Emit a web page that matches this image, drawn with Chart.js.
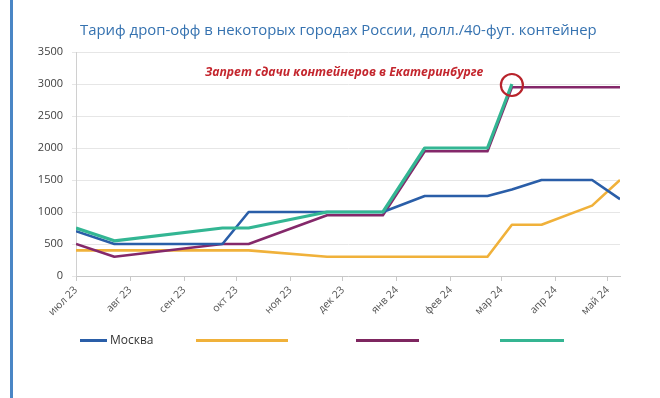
<!DOCTYPE html>
<html lang="ru">
<head>
<meta charset="utf-8">
<script src="https://cdn.jsdelivr.net/npm/chart.js@4"></script>
<style>
  html, body { margin: 0; padding: 0; background: #fff; }
  #wrap { position: relative; width: 660px; height: 398px; overflow: hidden; font-family: 'Open Sans', sans-serif; }
  #bar { position: absolute; left: 10px; top: 0; width: 3px; height: 398px; background: #4a86c5; }
  #title { position: absolute; left: 80px; top: 19px; font-size: 14.9px; color: #3572b0; white-space: nowrap; }
  #note { position: absolute; left: 205px; top: 63px; font-size: 12.2px; font-weight: bold; font-style: italic; color: #c4262e; white-space: nowrap; }
  #chart { position: absolute; left: 0; top: 0; }
  .lg { position: absolute; top: 339px; height: 3px; }
  #lgText { position: absolute; left: 110px; top: 331px; font-size: 12px; color: #333; }
</style>
</head>
<body>
<div id="wrap">
  <div id="bar"></div>
  <canvas id="chart" width="660" height="398"></canvas>
  <div id="title">Тариф дроп-офф в некоторых городах России, долл./40-фут. контейнер</div>
  <div id="note">Запрет сдачи контейнеров в Екатеринбурге</div>
  <div class="lg" style="left:80px;width:27px;background:#2a5ea8"></div>
  <div id="lgText">Москва</div>
  <div class="lg" style="left:196px;width:92px;background:#f0b13a"></div>
  <div class="lg" style="left:356px;width:63px;background:#7e2660"></div>
  <div class="lg" style="left:500px;width:64px;background:#35b592"></div>
</div>
<script>
// ---- данные ----
const dates = ['2023-07-01', '2023-07-23', '2023-09-23', '2023-10-08', '2023-11-22', '2023-12-24',
               '2024-01-17', '2024-02-22', '2024-03-07', '2024-03-24', '2024-04-22', '2024-05-08'];

const moscow = [700, 500, 500, 1000, 1000, 1000, 1250, 1250, 1350, 1500, 1500, 1200];
const orange = [400, 400, 400, 400, 300, 300, 300, 300, 800, 800, 1100, 1500];
const purple = [500, 300, 500, 500, 950, 950, 1950, 1950, 2950, 2950, 2950, 2950];
const green  = [750, 550, 750, 750, 1000, 1000, 2000, 2000, 3000, null, null, null];

const monthStarts = ['2023-07-01', '2023-08-01', '2023-09-01', '2023-10-01', '2023-11-01', '2023-12-01',
                     '2024-01-01', '2024-02-01', '2024-03-01', '2024-04-01', '2024-05-01'];
const monthLabels = ['июл 23', 'авг 23', 'сен 23', 'окт 23', 'ноя 23', 'дек 23',
                     'янв 24', 'фев 24', 'мар 24', 'апр 24', 'май 24'];

const yTicks = [0, 500, 1000, 1500, 2000, 2500, 3000, 3500];

// дни от начала оси
const t0 = Date.UTC(2023, 6, 1);
const toDay = s => (Date.parse(s + 'T00:00:00Z') - t0) / 86400000;
const days = dates.map(toDay);
const tickDays = monthStarts.map(toDay);

const pts = arr => arr.map((v, i) => ({ x: days[i], y: v }));

function line(data, color, width, order) {
  return {
    data: pts(data),
    borderColor: color,
    borderWidth: width,
    pointRadius: 0,
    tension: 0,
    fill: false,
    order: order,
    borderJoinStyle: 'round',
  };
}

// красный кружок вокруг точки запрета
const circlePlugin = {
  id: 'banCircle',
  afterDatasetsDraw(chart) {
    const { ctx, scales } = chart;
    const x = scales.x.getPixelForValue(days[8]);
    const y = scales.y.getPixelForValue(green[8]);
    ctx.save();
    ctx.strokeStyle = '#b8232b';
    ctx.lineWidth = 2.2;
    ctx.beginPath();
    ctx.arc(x, y + 1, 11, 0, Math.PI * 2);
    ctx.stroke();
    ctx.restore();
  }
};

new Chart(document.getElementById('chart'), {
  type: 'line',
  data: {
    datasets: [
      line(moscow, '#2a5ea8', 2.6, 2),
      line(orange, '#f0b13a', 2.6, 4),
      line(purple, '#84286a', 2.6, 3),
      line(green,  '#33b693', 3.2, 1),
    ],
  },
  options: {
    responsive: false,
    animation: false,
    layout: { padding: { left: 0, top: 52, right: 40, bottom: 0 } },
    plugins: { legend: { display: false }, tooltip: { enabled: false } },
    scales: {
      x: {
        type: 'linear',
        min: 0,
        max: days[days.length - 1],
        afterBuildTicks: s => { s.ticks = tickDays.map(v => ({ value: v })); },
        afterFit: s => { s.height = 122; },
        ticks: {
          autoSkip: false,
          minRotation: 45,
          maxRotation: 45,
          padding: 3,
          color: '#555',
          font: { family: 'Open Sans', size: 10.5 },
          callback: v => monthLabels[tickDays.indexOf(v)] ?? '',
        },
        grid: { drawOnChartArea: false, drawTicks: true, tickLength: 5, color: '#c8c8c8' },
        border: { color: '#c8c8c8' },
      },
      y: {
        min: 0,
        max: 3500,
        afterBuildTicks: s => { s.ticks = yTicks.map(v => ({ value: v })); },
        afterFit: s => { s.width = 76; },
        ticks: {
          padding: 9,
          color: '#404040',
          font: { family: 'Open Sans', size: 11 },
          callback: v => String(v),
        },
        grid: { color: '#e6e6e6', tickLength: 4 },
        border: { color: '#d0d0d0' },
      },
    },
  },
  plugins: [circlePlugin],
});
</script>
</body>
</html>
